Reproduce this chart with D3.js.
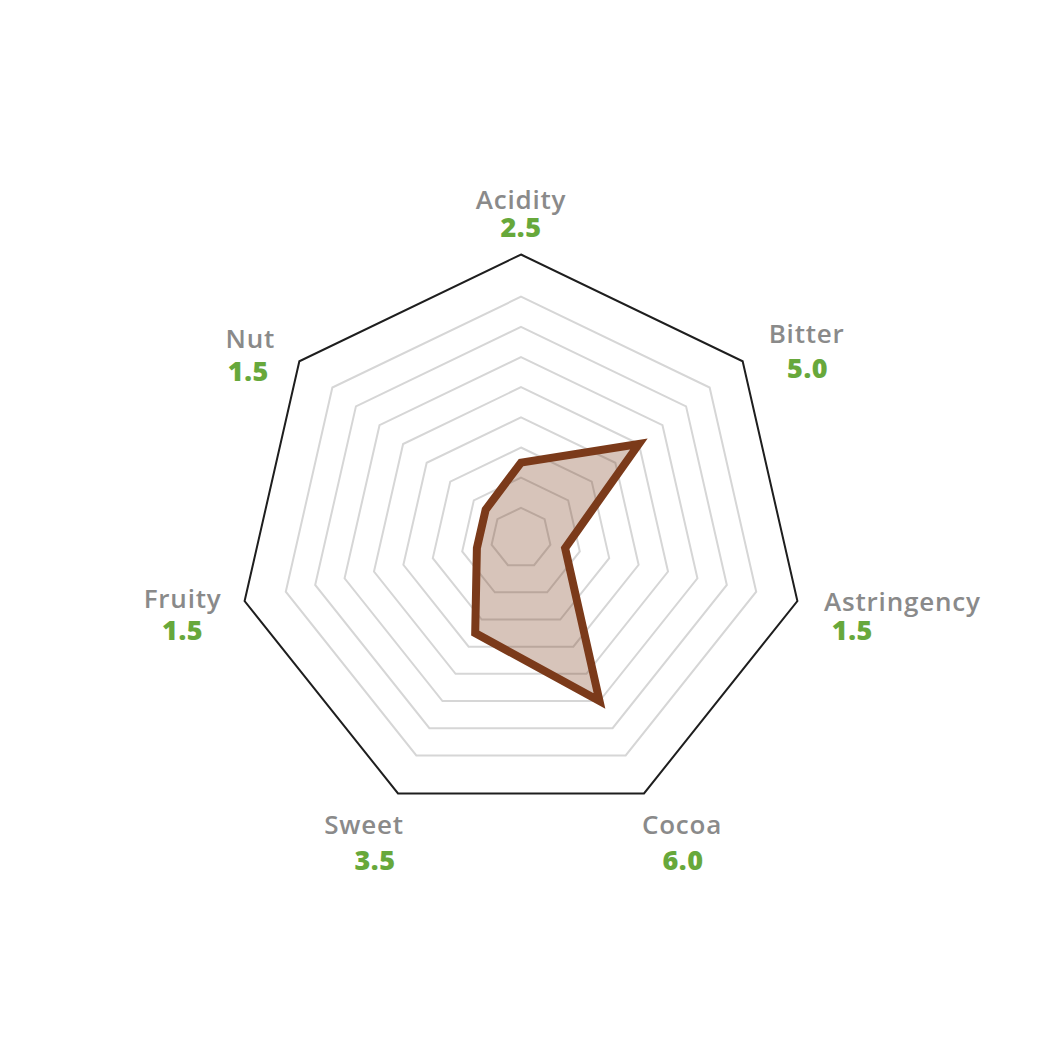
<!DOCTYPE html>
<html>
<head>
<meta charset="utf-8">
<script src="https://cdn.jsdelivr.net/npm/d3@7"></script>
<style>
  html, body { margin: 0; padding: 0; background: #ffffff; }
  svg { display: block; }
</style>
</head>
<body>
<svg id="chart" width="1042" height="1042"></svg>
<script>
// ---- data ----
const categories = ["Acidity", "Bitter", "Astringency", "Cocoa", "Sweet", "Fruity", "Nut"];
const values = [2.5, 5.0, 1.5, 6.0, 3.5, 1.5, 1.5];
const valueLabels = ["2.5", "5.0", "1.5", "6.0", "3.5", "1.5", "1.5"];
const gridLevels = [1, 2, 3, 4, 5, 6, 7, 8];
const scaleMax = 9.4;

// ---- layout ----
const W = 1042, H = 1042;
const cx = 521, cy = 538, R = 283.5;
// label offsets relative to the outer vertex of each axis: [nameDx, nameDy, valueDx, valueDy]
const labelOffsets = [
  [0, -46, 0, -18],
  [64, -18, 65, 17],
  [105, 10, 55, 39],
  [38, 41, 39, 77],
  [-34, 41, -23, 77],
  [-62, 7, -62, 39],
  [-49, -13, -51, 20]
];

const svg = d3.select("#chart");
const g = svg.append("g").attr("transform", `translate(${cx},${cy})`);

const angle = d3.scalePoint().domain(categories).range([0, 2 * Math.PI * (categories.length - 1) / categories.length]);
const rScale = d3.scaleLinear().domain([0, scaleMax]).range([0, R]);

const radial = d3.lineRadial()
  .angle(d => d.a)
  .radius(d => d.r)
  .curve(d3.curveLinearClosed);

// grid rings
g.selectAll("path.ring")
  .data(gridLevels)
  .join("path")
  .attr("class", "ring")
  .attr("d", lvl => radial(categories.map(c => ({ a: angle(c), r: rScale(lvl) }))))
  .attr("fill", "none")
  .attr("stroke", "#d6d6d6")
  .attr("stroke-width", 2);

// outer border
g.append("path")
  .attr("d", radial(categories.map(c => ({ a: angle(c), r: rScale(scaleMax) }))))
  .attr("fill", "none")
  .attr("stroke", "#1e1e1e")
  .attr("stroke-width", 2);

// data area
g.append("path")
  .datum(categories.map((c, i) => ({ a: angle(c), r: rScale(values[i]) })))
  .attr("d", radial)
  .attr("fill", "#7b3a1a")
  .attr("fill-opacity", 0.3)
  .attr("stroke", "#7b3a1a")
  .attr("stroke-width", 8)
  .attr("stroke-linejoin", "miter")
  .attr("stroke-miterlimit", 4);

// labels
const outerPoint = c => {
  const a = angle(c) - Math.PI / 2;
  return [rScale(scaleMax) * Math.cos(a), rScale(scaleMax) * Math.sin(a)];
};

const labels = g.selectAll("g.lbl")
  .data(categories)
  .join("g")
  .attr("class", "lbl");

labels.append("text")
  .attr("x", (c, i) => outerPoint(c)[0] + labelOffsets[i][0])
  .attr("y", (c, i) => outerPoint(c)[1] + labelOffsets[i][1])
  .attr("text-anchor", "middle")
  .attr("font-family", "'Open Sans', sans-serif")
  .attr("font-weight", 600)
  .attr("font-size", 26)
  .attr("letter-spacing", 0.8)
  .attr("fill", "#8a8a8a")
  .text(c => c);

labels.append("text")
  .attr("x", (c, i) => outerPoint(c)[0] + labelOffsets[i][2])
  .attr("y", (c, i) => outerPoint(c)[1] + labelOffsets[i][3])
  .attr("text-anchor", "middle")
  .attr("font-family", "'Open Sans', sans-serif")
  .attr("font-weight", 800)
  .attr("font-size", 27)
  .attr("letter-spacing", 0.6)
  .attr("fill", "#67a83b")
  .text((c, i) => valueLabels[i]);
</script>
</body>
</html>
